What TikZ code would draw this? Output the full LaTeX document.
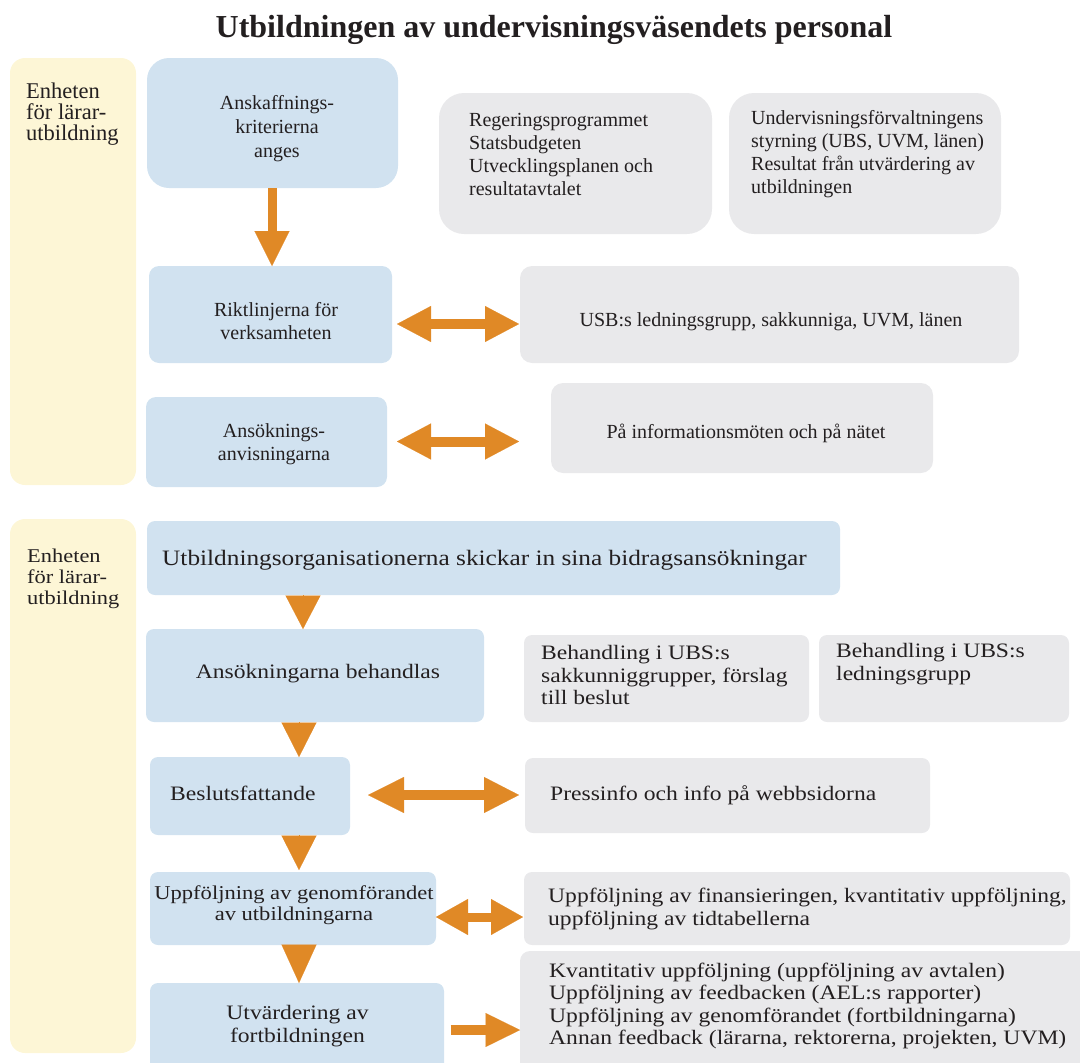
\documentclass[tikz,border=0pt]{standalone}
\usepackage{fontspec}
\setmainfont{Liberation Serif}
\newfontfamily\widefont[FakeStretch=1.15]{Liberation Serif}
\usetikzlibrary{arrows.meta}
\definecolor{cblue}{RGB}{209,226,240}
\definecolor{cgrey}{RGB}{233,233,235}
\definecolor{cyellow}{RGB}{253,246,214}
\definecolor{corange}{RGB}{224,137,38}
\definecolor{ctext}{RGB}{35,31,32}
\tikzset{
  panel/.style={inner sep=0pt, outer sep=0pt, draw=none},
  bluebox/.style={panel, fill=cblue},
  greybox/.style={panel, fill=cgrey},
  yellowbox/.style={panel, fill=cyellow, rounded corners=15pt},
  txa/.style={inner sep=0pt, text=ctext, font=\fontsize{20}{23}\selectfont},
  txb/.style={inner sep=0pt, text=ctext, font=\widefont\fontsize{20.5}{22.5}\selectfont},
  fatarrow/.style={draw=corange, line width=10pt},
  headonly/.style={draw=corange, line width=0.1pt,
    -{Triangle[width=35pt,length=#1,line width=0.1pt]}},
}
\begin{document}
\begin{tikzpicture}[x=1pt,y=-1pt]
\useasboundingbox (0,0) rectangle (1080,1063);
\clip (0,0) rectangle (1080,1063);

% title
\node[inner sep=0pt, text=ctext, font=\bfseries\fontsize{32}{36}\selectfont] (title) at (554,30)
  {Utbildningen av undervisningsväsendets personal};

% ---------- section 1 ----------
\node[yellowbox, minimum width=126pt, minimum height=427pt] (y1) at (73,271.5) {};
\node[txa, font=\fontsize{22.5}{21}\selectfont, align=left, anchor=west] (y1t) at (26,114)
  {Enheten\\för lärar-\\utbildning};

\node[bluebox, rounded corners=22pt, minimum width=251pt, minimum height=130pt] (b1) at (272.5,123) {};
\node[txa, font=\fontsize{20}{24}\selectfont, align=center] (b1t) at (277,129)
  {Anskaffnings-\\kriterierna\\anges};

\node[bluebox, rounded corners=10pt, minimum width=243pt, minimum height=97pt] (b2) at (270.5,314.5) {};
\node[txa, align=center] (b2t) at (276,321) {Riktlinjerna för\\verksamheten};

\node[bluebox, rounded corners=10pt, minimum width=241pt, minimum height=90pt] (b3) at (266.5,442) {};
\node[txa, align=center] (b3t) at (274,444) {Ansöknings-\\anvisningarna};

\node[greybox, rounded corners=25pt, minimum width=273pt, minimum height=141pt] (g1) at (575.5,163.5) {};
\node[txa, align=left, anchor=west] (g1t) at (469,154.5)
  {Regeringsprogrammet\\Statsbudgeten\\Utvecklingsplanen och\\resultatavtalet};

\node[greybox, rounded corners=25pt, minimum width=272pt, minimum height=141pt] (g2) at (865,163.5) {};
\node[txa, align=left, anchor=west] (g2t) at (751,154.5)
  {Undervisningsförvaltningens\\styrning (UBS, UVM, länen)\\Resultat från utvärdering av\\utbildningen};

\node[greybox, rounded corners=12pt, minimum width=499pt, minimum height=97pt] (g3) at (769.5,314.5) {};
\node[txa] (g3t) at (771,322) {USB:s ledningsgrupp, sakkunniga, UVM, länen};

\node[greybox, rounded corners=12pt, minimum width=382pt, minimum height=90pt] (g4) at (742,428) {};
\node[txa] (g4t) at (746,433) {På informationsmöten och på nätet};

% arrows section 1
\draw[draw=corange, line width=9pt, -{Triangle[width=35pt,length=35pt,line width=0.1pt]}]
  (b1.south -| 272,0) -- (b2.north -| 272,0);
\draw[fatarrow, {Triangle[width=36pt,length=34pt,line width=0.1pt]}-{Triangle[width=36pt,length=34pt,line width=0.1pt]},
  shorten <=5pt, shorten >=1pt] (b2.east |- 0,324) -- (g3.west |- 0,324);
\draw[fatarrow, {Triangle[width=36pt,length=34pt,line width=0.1pt]}-{Triangle[width=36pt,length=34pt,line width=0.1pt]},
  shorten <=10pt, shorten >=32pt] (b3.east |- 0,441.5) -- (g4.west |- 0,441.5);

% ---------- section 2 ----------
\node[yellowbox, minimum width=126pt, minimum height=534pt] (y2) at (73,786) {};
\node[txb, font=\widefont\fontsize{19.5}{21}\selectfont, align=left, anchor=west] (y2t) at (27,579)
  {Enheten\\för lärar-\\utbildning};

\node[bluebox, rounded corners=8pt, minimum width=693pt, minimum height=74pt] (b4) at (493.5,558) {};
\node[txb, font=\widefont\fontsize{22}{24}\selectfont, anchor=west] (b4t) at (162,560)
  {Utbildningsorganisationerna skickar in sina bidragsansökningar};

\node[bluebox, rounded corners=8pt, minimum width=338pt, minimum height=93pt] (b5) at (315,675.5) {};
\node[txb] (b5t) at (318,674) {Ansökningarna behandlas};

\node[bluebox, rounded corners=8pt, minimum width=200pt, minimum height=78pt] (b6) at (250,796) {};
\node[txb, anchor=west] (b6t) at (170,793) {Beslutsfattande};

\node[bluebox, rounded corners=8pt, minimum width=286pt, minimum height=73pt] (b7) at (293,908.5) {};
\node[txb, font=\widefont\fontsize{19.6}{21}\selectfont, align=center] (b7t) at (294,905)
  {Uppföljning av genomförandet\\av utbildningarna};

\node[bluebox, rounded corners=8pt, minimum width=294pt, minimum height=100pt] (b8) at (297,1033) {};
\node[txb, align=center] (b8t) at (297.5,1026) {Utvärdering av\\fortbildningen};

\node[greybox, rounded corners=8pt, minimum width=285pt, minimum height=87pt] (g5) at (666.5,678.5) {};
\node[txb, align=left, anchor=west] (g5t) at (541,675)
  {Behandling i UBS:s\\sakkunniggrupper, förslag\\till beslut};

\node[greybox, rounded corners=8pt, minimum width=250pt, minimum height=87pt] (g6) at (944,678.5) {};
\node[txb, align=left, anchor=west] (g6t) at (836,664)
  {Behandling i UBS:s\\ledningsgrupp};

\node[greybox, rounded corners=8pt, minimum width=405pt, minimum height=75pt] (gp) at (727.5,795.5) {};
\node[txb, anchor=west] (gpt) at (550,795) {Pressinfo och info på webbsidorna};

\node[greybox, rounded corners=8pt, minimum width=546pt, minimum height=73pt] (g7) at (797,908.5) {};
\node[txb, align=left, anchor=west] (g7t) at (548,909)
  {Uppföljning av finansieringen, kvantitativ uppföljning,\\uppföljning av tidtabellerna};

\node[greybox, rounded corners=10pt, minimum width=572pt, minimum height=132pt] (g8) at (806,1017) {};
\node[txb, align=left, anchor=west] (g8t) at (549,1006)
  {Kvantitativ uppföljning (uppföljning av avtalen)\\Uppföljning av feedbacken (AEL:s rapporter)\\Uppföljning av genomförandet (fortbildningarna)\\Annan feedback (lärarna, rektorerna, projekten, UVM)};

% arrows section 2
\draw[headonly=33.5pt] (b4.south -| 303,0) -- (b5.north -| 303,0);
\draw[headonly=34.5pt] (b5.south -| 299,0) -- (b6.north -| 299,0);
\draw[headonly=34.5pt, shorten >=2pt] (b6.south -| 299,0) -- (b7.north -| 299,0);
\draw[headonly=38.5pt] (b7.south -| 299,0) -- (b8.north -| 299,0);

\draw[fatarrow, {Triangle[width=36pt,length=36pt,line width=0.1pt]}-{Triangle[width=36pt,length=35pt,line width=0.1pt]},
  shorten <=18pt, shorten >=6pt] (b6.east |- 0,795) -- (gp.west |- 0,795);
\draw[fatarrow, line width=9pt, {Triangle[width=36pt,length=32pt,line width=0.1pt]}-{Triangle[width=36pt,length=32pt,line width=0.1pt]},
  shorten >=1pt] (b7.east |- 0,917) -- (g7.west |- 0,917);
\draw[fatarrow, -{Triangle[width=34pt,length=34.5pt,line width=0.1pt]},
  shorten <=6.5pt] (b8.east |- 0,1030) -- (g8.west |- 0,1030);
\end{tikzpicture}
\end{document}
